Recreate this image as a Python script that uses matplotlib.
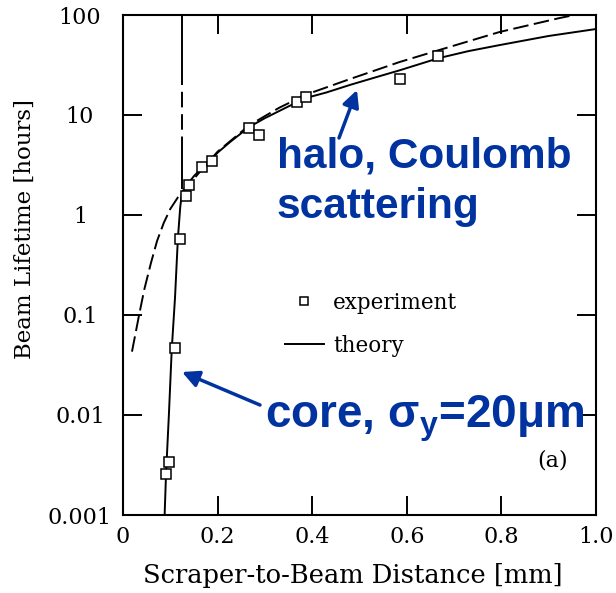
import matplotlib
matplotlib.use("Agg")
import matplotlib.pyplot as plt
from matplotlib.lines import Line2D

# experiment points (scraper distance [mm], lifetime [hours])
exp_x = [0.0905, 0.097, 0.110, 0.120, 0.133, 0.139, 0.168, 0.189, 0.267, 0.288, 0.368, 0.387, 0.585, 0.667]
exp_y = [0.0026, 0.0034, 0.047, 0.58, 1.55, 2.0, 3.0, 3.5, 7.4, 6.3, 13.5, 15.1, 22.9, 38.9]

# theory, gaussian core
core_x = [0.088, 0.091, 0.097, 0.103, 0.110, 0.116, 0.121, 0.125]
core_y = [0.001, 0.0026, 0.01, 0.045, 0.15, 0.58, 1.2, 1.7]

# theory continued straight up from the core
vert_x = [0.125, 0.125]
vert_y = [100, 1.8]

# theory, halo (coulomb scattering)
halo_x = [0.125, 0.139, 0.15, 0.168, 0.189, 0.2, 0.227, 0.267, 0.3, 0.35, 0.387, 0.43, 0.48,
          0.53, 0.585, 0.667, 0.73, 0.796, 0.9, 1.0]
halo_y = [1.7, 2.1, 2.45, 3.0, 3.7, 4.2, 5.4, 7.6, 9.3, 12.2, 14.8, 16.8, 20.0,
          23.5, 28.0, 37.0, 43.5, 50, 61.7, 72.4]

# dashed curve
dash_x = [0.019, 0.034, 0.045, 0.059, 0.072, 0.086, 0.1, 0.116, 0.139, 0.168, 0.2, 0.267, 0.33,
          0.387, 0.48, 0.585, 0.669, 0.796, 0.922, 0.954]
dash_y = [0.043, 0.1, 0.18, 0.33, 0.55, 0.83, 1.15, 1.5, 2.0, 2.9, 4.3, 7.9, 11.8,
          16.0, 22.9, 33.9, 44.7, 67.6, 93, 100]

x_ticks = [0, 0.2, 0.4, 0.6, 0.8, 1.0]
x_labels = ["0", "0.2", "0.4", "0.6", "0.8", "1.0"]
y_ticks = [0.001, 0.01, 0.1, 1, 10, 100]
y_labels = ["0.001", "0.01", "0.1", "1", "10", "100"]

blue = "#0033a0"
plt.rcParams['mathtext.fontset'] = 'custom'
plt.rcParams['mathtext.bf'] = 'Liberation Sans:bold'
plt.rcParams['mathtext.rm'] = 'Liberation Sans:bold'

fig = plt.figure(figsize=(6.16, 5.93), dpi=100)
ax = fig.add_axes([123/616, 1-515/593, 473/616, 500/593])

ax.plot(exp_x, exp_y, 's', mfc='white', mec='black', ms=7.5, mew=1.1, zorder=5)
ax.plot(core_x, core_y, 'k-', lw=1.4)
ax.plot(vert_x, vert_y, 'k', lw=1.4, dashes=[36, 3.5, 8, 3.5, 8, 3.5, 43, 3.5])
ax.plot(halo_x, halo_y, 'k-', lw=1.4)
ax.plot(dash_x, dash_y, 'k', lw=1.4, dashes=[8, 2.8])

ax.set_yscale('log')
ax.set_xlim(0, 1.0)
ax.set_ylim(0.001, 100)
ax.set_xticks(x_ticks)
ax.set_xticklabels(x_labels)
ax.set_yticks(y_ticks)
ax.set_yticklabels(y_labels)
ax.minorticks_off()
ax.tick_params(direction='in', length=14, width=1.4, top=True, right=True,
               labelsize=16)
ax.tick_params(axis='x', pad=8)
ax.tick_params(axis='y', pad=31)
for lbl in ax.get_xticklabels() + ax.get_yticklabels():
    lbl.set_fontfamily('DejaVu Serif')
for lbl in ax.get_yticklabels():
    lbl.set_ha('center')
for s in ax.spines.values():
    s.set_linewidth(1.5)

fig.text(353/616, 1-576/593, "Scraper-to-Beam Distance [mm]", ha='center', va='center',
         family='DejaVu Serif', fontsize=18.5)
fig.text(25/616, 1-229/593, "Beam Lifetime [hours]", ha='center', va='center', rotation=90,
         family='DejaVu Serif', fontsize=16.5)

handles = [Line2D([], [], ls='none', marker='s', mfc='white', mec='black', ms=6, mew=1.1),
           Line2D([], [], color='black', lw=1.4)]
ax.legend(handles, ['experiment', 'theory'], loc='upper left', bbox_to_anchor=(0.342, 0.447),
          frameon=False, borderpad=0, borderaxespad=0, handlelength=1.8, handletextpad=0.45,
          labelspacing=1.0, prop={'family': 'DejaVu Serif', 'size': 15.5})

ax.text(553/616, 1-461/593, "(a)", transform=fig.transFigure, ha='center', va='center',
        family='DejaVu Serif', fontsize=16)

fig.text(277/616, 1-168/593, "halo, Coulomb", color=blue, ha='left', va='baseline',
         family='Liberation Sans', weight='bold', fontsize=30.5)
fig.text(277/616, 1-218/593, "scattering", color=blue, ha='left', va='baseline',
         family='Liberation Sans', weight='bold', fontsize=30.5)
fig.text(265/616, 1-428/593, r"core, $\mathbf{\sigma_y}$=20μm", color=blue, ha='left', va='baseline',
         family='Liberation Sans', weight='bold', fontsize=33)

arrow = dict(arrowstyle='-|>', color=blue, lw=2.5, mutation_scale=25, shrinkA=0, shrinkB=0)
ax.annotate('', xy=(357/616, 1-90/593), xytext=(339/616, 1-138/593),
            xycoords='figure fraction', textcoords='figure fraction', arrowprops=arrow)
ax.annotate('', xy=(182/616, 1-372/593), xytext=(260/616, 1-405/593),
            xycoords='figure fraction', textcoords='figure fraction', arrowprops=arrow)

fig.savefig("out.png", dpi=100)
